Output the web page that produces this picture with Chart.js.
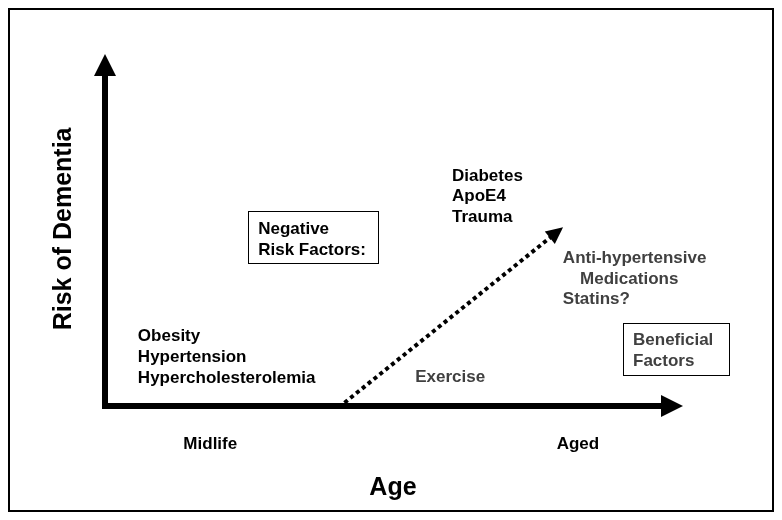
<!DOCTYPE html>
<html>
<head>
<meta charset="utf-8">
<script src="https://cdn.jsdelivr.net/npm/chart.js@4.4.1/dist/chart.umd.min.js"></script>
<style>
  body { margin: 0; background: #fff; }
  #wrap { width: 782px; height: 520px; position: relative; }
</style>
</head>
<body>
<div id="wrap"><canvas id="grafico"></canvas></div>
<script>
// conceptual units: age 0..100 along x, risk 0..100 along y
const eixoY = [{x: 0, y: 0}, {x: 0, y: 100}];
const eixoX = [{x: 0, y: 0}, {x: 100, y: 0}];
const tendencia = [{x: 43, y: 1}, {x: 80, y: 51}];

const categorias = ['Midlife', 'Aged'];
const fatoresMeiaIdade = ['Obesity', 'Hypertension', 'Hypercholesterolemia'];
const fatoresNegativos = ['Diabetes', 'ApoE4', 'Trauma'];
const fatoresBeneficos = ['Anti-hypertensive', 'Medications', 'Statins?'];

const PRETO = '#000000';
const CINZA = '#404040';
const fonte = (t) => 'bold ' + t + 'px "Liberation Sans", Arial, sans-serif';

// where the texts go (same units as the scales, y = baseline)
const textos = [
  {t: fatoresMeiaIdade[0], x: 5.9, y: 19.6, cor: PRETO},
  {t: fatoresMeiaIdade[1], x: 5.9, y: 13.3, cor: PRETO},
  {t: fatoresMeiaIdade[2], x: 5.9, y: 6.95, cor: PRETO},
  {t: fatoresNegativos[0], x: 62.3, y: 68.0, cor: PRETO},
  {t: fatoresNegativos[1], x: 62.3, y: 61.8, cor: PRETO},
  {t: fatoresNegativos[2], x: 62.3, y: 55.6, cor: PRETO},
  {t: 'Negative', x: 27.5, y: 52.0, cor: PRETO},
  {t: 'Risk Factors:', x: 27.5, y: 45.6, cor: PRETO},
  {t: 'Exercise', x: 55.7, y: 7.25, cor: CINZA},
  {t: fatoresBeneficos[0], x: 82.2, y: 43.2, cor: CINZA},
  {t: fatoresBeneficos[1], x: 85.3, y: 36.9, cor: CINZA},
  {t: fatoresBeneficos[2], x: 82.2, y: 30.8, cor: CINZA},
  {t: 'Beneficial', x: 94.8, y: 18.4, cor: CINZA},
  {t: 'Factors', x: 94.8, y: 12.1, cor: CINZA}
];
const caixas = [
  {x1: 25.7, x2: 49.0, y1: 58.9, y2: 43.2},
  {x1: 93.0, x2: 112.0, y1: 25.1, y2: 9.4}
];
const posCategorias = [18.9, 84.9];

const desenhos = {
  id: 'desenhos',
  afterDatasetsDraw(chart) {
    const ctx = chart.ctx;
    const sx = chart.scales.x, sy = chart.scales.y;
    ctx.save();

    // moldura
    ctx.strokeStyle = '#000';
    ctx.lineWidth = 2;
    ctx.strokeRect(9, 9, 764, 502);

    // pontas das setas
    const setas = [[0, 22, 11], [1, 22, 11], [2, 17, 8]];
    setas.forEach(([i, comp, meia]) => {
      const pts = chart.getDatasetMeta(i).data;
      const a = pts[pts.length - 2], b = pts[pts.length - 1];
      const dx = b.x - a.x, dy = b.y - a.y;
      const len = Math.hypot(dx, dy);
      const ux = dx / len, uy = dy / len;
      const bx = b.x - ux * 1, by = b.y - uy * 1;
      ctx.fillStyle = '#000';
      ctx.beginPath();
      ctx.moveTo(bx + ux * comp, by + uy * comp);
      ctx.lineTo(bx - uy * meia, by + ux * meia);
      ctx.lineTo(bx + uy * meia, by - ux * meia);
      ctx.closePath();
      ctx.fill();
    });

    // caixas
    ctx.lineWidth = 1;
    caixas.forEach(c => {
      const x1 = Math.round(sx.getPixelForValue(c.x1)) + 0.5;
      const x2 = Math.round(sx.getPixelForValue(c.x2)) + 0.5;
      const y1 = Math.round(sy.getPixelForValue(c.y1)) + 0.5;
      const y2 = Math.round(sy.getPixelForValue(c.y2)) + 0.5;
      ctx.strokeRect(x1, y1, x2 - x1, y2 - y1);
    });

    // textos
    ctx.font = fonte(17);
    ctx.textBaseline = 'alphabetic';
    ctx.textAlign = 'left';
    textos.forEach(tx => {
      ctx.fillStyle = tx.cor;
      ctx.fillText(tx.t, sx.getPixelForValue(tx.x), sy.getPixelForValue(tx.y));
    });

    ctx.fillStyle = PRETO;
    ctx.textAlign = 'center';
    categorias.forEach((c, i) => {
      ctx.fillText(c, sx.getPixelForValue(posCategorias[i]), sy.getPixelForValue(-13.0));
    });

    // titulos dos eixos
    ctx.font = fonte(25);
    ctx.textBaseline = 'middle';
    ctx.fillText('Age', sx.getPixelForValue(51.7), sy.getPixelForValue(-24.8));
    ctx.translate(sx.getPixelForValue(-7.4), sy.getPixelForValue(53.5));
    ctx.rotate(-Math.PI / 2);
    ctx.fillText('Risk of Dementia', 0, 0);

    ctx.restore();
  }
};

new Chart(document.getElementById('grafico'), {
  type: 'scatter',
  data: {
    datasets: [
      {data: eixoY, showLine: true, clip: false, borderColor: '#000', borderWidth: 6, borderCapStyle: 'square', pointRadius: 0},
      {data: eixoX, showLine: true, clip: false, borderColor: '#000', borderWidth: 6, borderCapStyle: 'square', pointRadius: 0},
      {data: tendencia, showLine: true, clip: false, borderColor: '#000', borderWidth: 4, borderDash: [4, 3.5], pointRadius: 0}
    ]
  },
  options: {
    responsive: true,
    maintainAspectRatio: false,
    animation: false,
    layout: { padding: {left: 105, right: 120, top: 75, bottom: 114} },
    plugins: { legend: {display: false}, tooltip: {enabled: false} },
    scales: {
      x: { display: false, min: 0, max: 100 },
      y: { display: false, min: 0, max: 100 }
    }
  },
  plugins: [desenhos]
});
</script>
</body>
</html>
